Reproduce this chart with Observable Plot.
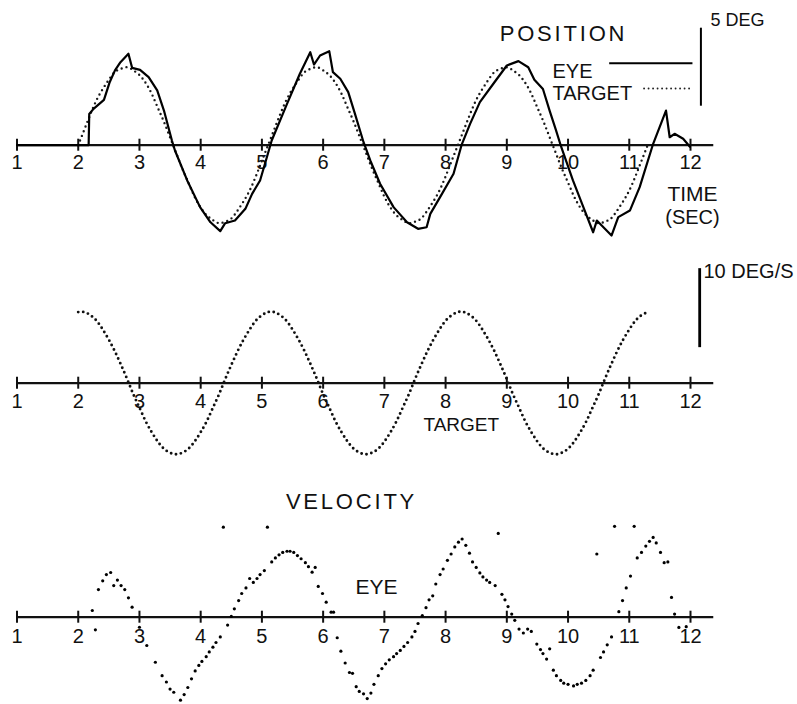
<!DOCTYPE html>
<html><head><meta charset="utf-8">
<script src="https://cdn.jsdelivr.net/npm/d3@7"></script>
<script src="https://cdn.jsdelivr.net/npm/@observablehq/plot@0.6"></script>
<style>
body{margin:0;background:#fff;}
#chart svg{display:block;}
</style></head><body><div id="chart"></div>
<script>
// ---- data ----
const tickValues = [1,2,3,4,5,6,7,8,9,10,11,12];
const tickLabels = ["1","2","3","4","5","6","7","8","9","10","11","12"];

// target position (deg), sampled every 0.1 s from t = 2.0
const targetPosStart = 2.0, targetStep = 0.1;
const targetPosDeg = [0,1.0,2.0,2.9,3.6,4.2,4.7,4.9,5.0,4.8,4.5,4.0,3.3,2.4,1.5,0.5,-0.5,-1.5,-2.4,-3.3,-4.0,-4.5,-4.8,-5.0,-4.9,-4.7,-4.2,-3.6,-2.9,-2.0,-1.0,
0,1.0,2.0,2.9,3.6,4.2,4.7,4.9,5.0,4.8,4.5,4.0,3.3,2.4,1.5,0.5,-0.5,-1.5,-2.4,-3.3,-4.0,-4.5,-4.8,-5.0,-4.9,-4.7,-4.2,-3.6,-2.9,-2.0,-1.0,
0,1.0,2.0,2.9,3.6,4.2,4.7,4.9,5.0,4.8,4.5,4.0,3.3,2.4,1.5,0.5,-0.5,-1.5,-2.4,-3.3,-4.0,-4.5,-4.8,-5.0,-4.9,-4.7,-4.2,-3.6,-2.9,-2.0,-1.0,0];

// eye position (t sec, deg)
const eyePos = [[1.0,0],[2.17,0],[2.18,2.0],[2.25,2.33],[2.42,2.9],[2.51,4.0],[2.6,4.8],[2.69,5.32],[2.82,5.86],[2.88,4.96],[3.01,4.83],[3.15,4.36],[3.29,3.51],[3.40,2.22],[3.53,0.3],[3.58,-0.34],[3.78,-2.26],[3.99,-3.97],[4.16,-4.94],[4.32,-5.51],[4.40,-5.0],[4.56,-4.83],[4.73,-4.08],[4.84,-3.12],[4.97,-2.26],[5.05,-1.19],[5.16,0.3],[5.41,2.65],[5.62,4.58],[5.79,5.96],[5.85,5.17],[5.95,5.75],[6.10,6.03],[6.16,4.68],[6.28,4.26],[6.41,3.4],[6.52,2.01],[6.66,0.19],[6.77,-0.98],[6.93,-2.47],[7.15,-3.97],[7.37,-4.94],[7.55,-5.36],[7.69,-5.26],[7.75,-4.4],[7.91,-3.33],[8.13,-1.83],[8.26,0],[8.40,1.37],[8.56,2.76],[8.78,3.94],[9.0,5.11],[9.19,5.39],[9.35,5.0],[9.45,4.2],[9.59,3.6],[9.70,2.2],[9.80,1.0],[9.89,-0.13],[10.08,-2.26],[10.25,-3.97],[10.41,-5.58],[10.47,-4.83],[10.71,-5.79],[10.82,-4.61],[11.01,-4.19],[11.17,-2.69],[11.39,0.09],[11.60,2.22],[11.66,0.51],[11.74,0.73],[11.88,0.41],[11.99,-0.1]];

// target velocity (deg/s), sampled every 0.1 s from t = 2.0
const targetVel = [9.0,9.0,8.6,7.9,6.8,5.5,4.0,2.3,0.5,-1.4,-3.1,-4.8,-6.2,-7.4,-8.3,-8.8,-9.0,-8.8,-8.3,-7.4,-6.2,-4.8,-3.1,-1.4,0.5,2.3,4.0,5.5,6.8,7.9,8.6,
9.0,9.0,8.6,7.9,6.8,5.5,4.0,2.3,0.5,-1.4,-3.1,-4.8,-6.2,-7.4,-8.3,-8.8,-9.0,-8.8,-8.3,-7.4,-6.2,-4.8,-3.1,-1.4,0.5,2.3,4.0,5.5,6.8,7.9,8.6,
9.0,9.0,8.6,7.9,6.8,5.5,4.0,2.3,0.5,-1.4,-3.1,-4.8,-6.2,-7.4,-8.3,-8.8,-9.0,-8.8,-8.3,-7.4,-6.2,-4.8,-3.1,-1.4,0.5,2.3,4.0,5.5,6.8,7.9,8.6,9.0];

// eye velocity samples (t sec, deg/s)
const eyeVel = [[2.23,0.85],[2.28,-1.6],[2.33,3.5],[2.40,4.6],[2.46,5.4],[2.53,5.66],[2.58,4.0],[2.64,4.7],[2.70,4.0],[2.76,3.5],[2.82,2.45],[2.88,1.27],[3.00,-1.27],[3.12,-3.58],[3.26,-5.7],[3.37,-7.4],[3.44,-8.2],[3.50,-9.1],[3.56,-9.5],[3.67,-10.5],[3.73,-9.8],[3.79,-8.9],[3.85,-7.8],[3.91,-6.8],[3.97,-6.1],[4.02,-5.6],[4.09,-5.0],[4.14,-4.4],[4.20,-3.8],[4.25,-3.2],[4.32,-2.5],[4.37,11.4],[4.44,-1.0],[4.50,0.1],[4.55,1.06],[4.62,2.1],[4.67,3.0],[4.74,3.7],[4.80,4.9],[4.86,4.4],[4.92,4.9],[4.97,5.4],[5.04,5.9],[5.09,11.4],[5.16,7.0],[5.22,7.5],[5.28,7.9],[5.34,8.2],[5.41,8.35],[5.46,8.35],[5.52,8.2],[5.58,7.8],[5.64,7.4],[5.71,6.9],[5.76,6.4],[5.82,5.7],[5.87,6.3],[5.92,3.9],[5.99,3.0],[6.05,1.9],[6.13,0.63],[6.17,0.63],[6.23,-2.6],[6.29,-4.3],[6.36,-5.8],[6.43,-7.0],[6.48,-7.1],[6.54,-8.8],[6.59,-9.4],[6.66,-9.7],[6.72,-10.3],[6.78,-9.6],[6.83,-8.5],[6.90,-7.4],[6.96,-6.5],[7.02,-5.9],[7.08,-5.4],[7.15,-5.0],[7.20,-4.6],[7.26,-4.2],[7.32,-3.7],[7.38,-3.2],[7.45,-2.5],[7.50,-1.8],[7.55,-0.8],[7.62,0.2],[7.68,1.2],[7.73,2.2],[7.79,2.7],[7.84,4.2],[7.91,5.4],[7.96,6.1],[8.03,7.2],[8.09,8.0],[8.15,8.9],[8.21,9.5],[8.27,9.9],[8.33,9.1],[8.39,8.1],[8.44,7.0],[8.50,6.3],[8.56,5.6],[8.61,5.1],[8.67,4.7],[8.72,4.4],[8.81,4.0],[8.86,10.6],[8.92,2.9],[8.97,2.2],[9.02,1.35],[9.08,0.4],[9.13,-0.4],[9.20,-1.5],[9.27,-2.0],[9.34,-1.5],[9.40,-1.8],[9.49,-3.4],[9.55,-4.1],[9.59,-4.6],[9.65,-5.3],[9.70,-4.0],[9.76,-6.7],[9.81,-7.4],[9.88,-8.0],[9.93,-8.35],[10.00,-8.5],[10.09,-8.7],[10.15,-8.5],[10.22,-8.35],[10.29,-8.0],[10.36,-7.4],[10.41,-6.7],[10.47,8.0],[10.53,-5.1],[10.58,-4.4],[10.64,-3.5],[10.71,-2.5],[10.76,11.5],[10.83,0.7],[10.89,2.1],[10.95,3.7],[11.02,5.2],[11.08,11.5],[11.13,7.5],[11.20,8.2],[11.27,9.0],[11.33,9.6],[11.39,10.1],[11.44,9.4],[11.51,8.2],[11.57,6.9],[11.63,7.0],[11.69,2.5],[11.74,0.4],[11.81,-1.3],[11.93,-1.2]];

// ---- helpers ----
const font = "'Liberation Sans', Arial, Helvetica, sans-serif";
const W = 797;
const X = {domain: [1, 12], range: [16.5, 690], axis: null};
const ink = "#111";

const targetPos = targetPosDeg.map((v, i) => ({t: targetPosStart + i * targetStep, v}));
const targetVelData = targetVel.map((v, i) => ({t: targetPosStart + i * targetStep, v}));

function axisMarks(pxPerUnit, labelDy) {
  const up = 6 / pxPerUnit, down = 6 / pxPerUnit;
  return [
    Plot.ruleY([0], {x1: 1, x2: 12.38, stroke: ink, strokeWidth: 2.2}),
    Plot.ruleX(tickValues, {x: d => d, y1: -down, y2: up, stroke: ink, strokeWidth: 2}),
    Plot.text(tickValues, {x: d => d, y: 0, text: (d, i) => tickLabels[i], dy: labelDy, lineAnchor: "bottom", fontSize: 20, fill: ink})
  ];
}
function label(text, x, y, size, anchor = "start") {
  return Plot.text([text], {frameAnchor: "top-left", dx: x, dy: y, text: d => d, fontSize: size, textAnchor: anchor, lineAnchor: "bottom", fill: ink});
}
const style = {fontFamily: font, background: "transparent", overflow: "visible"};

// ---- panel 1 : position ----
const p1 = Plot.plot({
  width: W, height: 235, margin: 0, style,
  x: X, y: {domain: [0, 5], range: [144.7, 66.7], axis: null},
  marks: [
    ...axisMarks(15.6, 24),
    Plot.line(targetPos, {x: "t", y: "v", curve: "natural", stroke: "#1a1a1a", strokeWidth: 2.4, strokeDasharray: "0 5", strokeLinecap: "round"}),
    Plot.line(eyePos, {x: d => d[0], y: d => d[1], stroke: "#000", strokeWidth: 2.2, strokeLinejoin: "round"}),
    // legend samples and scale bar
    Plot.ruleY([5.26], {x1: 10.68, x2: 12.04, stroke: "#000", strokeWidth: 2}),
    Plot.ruleY([3.63], {x1: 11.25, x2: 11.99, stroke: "#222", strokeWidth: 1.9, strokeDasharray: "0 4.5", strokeLinecap: "round"}),
    Plot.ruleX([12.17], {y1: 2.5, y2: 7.5, stroke: "#000", strokeWidth: 2}),
    label("POSITION", 563, 40, 22, "middle"),
    label("5 DEG", 710, 25, 18),
    label("EYE", 552, 77, 20),
    label("TARGET", 552, 99, 20),
    label("TIME", 692, 200, 21, "middle"),
    label("(SEC)", 692, 223, 20, "middle")
  ]
});

// ---- panel 2 : target velocity ----
const p2 = Plot.plot({
  width: W, height: 230, margin: 0, style,
  x: X, y: {domain: [0, 10], range: [147.7, 68.7], axis: null},
  marks: [
    ...axisMarks(7.9, 25),
    Plot.line(targetVelData, {x: "t", y: "v", curve: "natural", stroke: "#111", strokeWidth: 2.9, strokeDasharray: "0 5", strokeLinecap: "round"}),
    Plot.ruleX([12.15], {y1: 4.5, y2: 14.5, stroke: "#000", strokeWidth: 2.8}),
    label("10 DEG/S", 703, 42, 20),
    label("TARGET", 423, 195, 19)
  ]
});

// ---- panel 3 : eye velocity ----
const p3 = Plot.plot({
  width: W, height: 239, margin: 0, style,
  x: X, y: {domain: [0, 10], range: [151.7, 72.7], axis: null},
  marks: [
    ...axisMarks(7.9, 26),
    Plot.dot(eyeVel, {x: d => d[0], y: d => d[1], r: 1.6, fill: "#000", stroke: "none"}),
    label("VELOCITY", 351, 43, 22, "middle"),
    label("EYE", 355, 128, 21)
  ]
});

const root = document.getElementById("chart");
[p1, p2, p3].forEach(svg => {
  root.appendChild(svg);
  d3.select(svg).selectAll("text")
    .filter(function() { return this.textContent === "POSITION" || this.textContent === "VELOCITY"; })
    .attr("letter-spacing", "2.8px");
});
</script></body></html>
